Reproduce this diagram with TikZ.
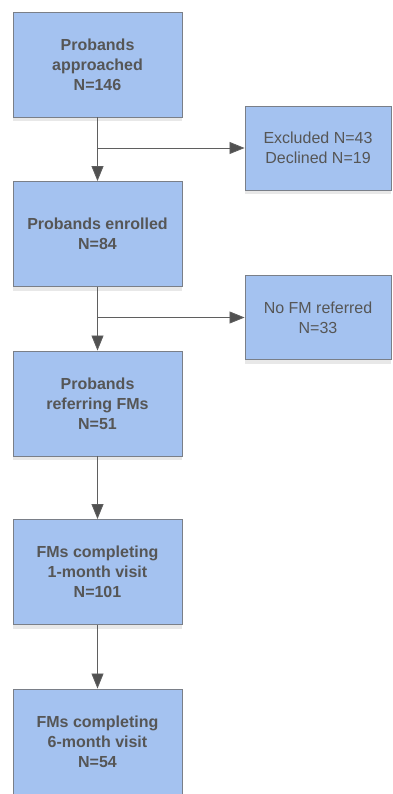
\documentclass[tikz,border=0pt]{standalone}
\usepackage{fontspec}
\setmainfont{Liberation Sans}
\usetikzlibrary{arrows.meta, shadows}
\definecolor{boxfill}{HTML}{A4C2F0}
\definecolor{boxline}{HTML}{7A7F88}
\definecolor{textgray}{HTML}{565656}
\definecolor{arrowgray}{HTML}{5F5F5F}
\tikzset{
  main box/.style={draw=boxline, line width=0.9pt, fill=boxfill, minimum width=169pt, minimum height=105pt,
    inner sep=0pt, align=center, text=textgray, font=\fontsize{16}{20}\selectfont\bfseries,
    drop shadow={opacity=0.18, shadow xshift=0pt, shadow yshift=-4pt}},
  side box/.style={main box, minimum width=146pt, minimum height=84pt, font=\fontsize{16}{20}\selectfont},
  flow arrow/.style={draw=arrowgray, line width=0.8pt, -{Triangle[length=15pt, width=12pt, fill=arrowgray!85!black]}},
}

\begin{document}
\begin{tikzpicture}[x=1pt, y=-1pt]
  \useasboundingbox (0,0) rectangle (392,794);
  % main column
  \node[main box] (approached) at (97.5, 64.5) {Probands\\approached\\N=146};
  \node[main box] (enrolled) at (97.5, 234) {Probands enrolled\\N=84};
  \node[main box] (referring) at (97.5, 403.5) {Probands\\referring FMs\\N=51};
  \node[main box] (onemonth) at (97.5, 572) {FMs completing\\1-month visit\\N=101};
  \node[main box] (sixmonth) at (97.5, 741.5) {FMs completing\\6-month visit\\N=54};
  % exclusions
  \node[side box] (excluded) at (318, 148) {Excluded N=43\\Declined N=19};
  \node[side box] (noreferral) at (318, 317.5) {No FM referred\\N=33};
  % connectors
  \draw[flow arrow] (approached) -- (enrolled);
  \draw[flow arrow] (approached.south |- excluded.west) -- (excluded.west);
  \draw[flow arrow] (enrolled) -- (referring);
  \draw[flow arrow] (enrolled.south |- noreferral.west) -- (noreferral.west);
  \draw[flow arrow] (referring) -- (onemonth);
  \draw[flow arrow] (onemonth) -- (sixmonth);
\end{tikzpicture}
\end{document}
